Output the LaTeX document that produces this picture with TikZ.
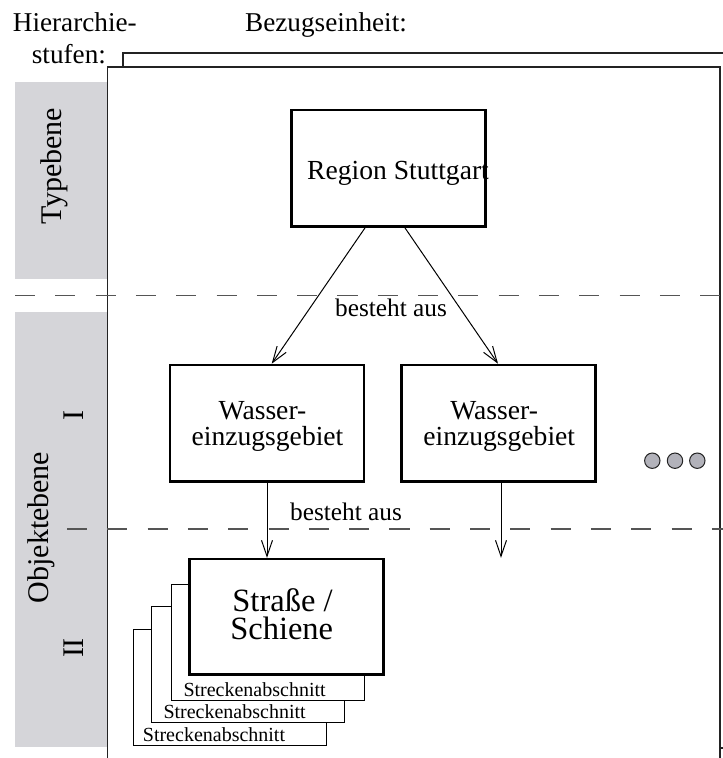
\documentclass[tikz,border=0pt]{standalone}
\usepackage{fontspec}
\setmainfont{Liberation Serif}
\usetikzlibrary{arrows.meta,calc}

\definecolor{panelgray}{RGB}{213,213,217}
\definecolor{dashgray}{RGB}{85,85,85}
\definecolor{dotgray}{RGB}{178,178,186}
\definecolor{framegray}{RGB}{35,35,35}

\begin{document}
\begin{tikzpicture}[x=1pt,y=-1pt,
  panel/.style={fill=panelgray},
  frame/.style={draw=framegray,line width=1.4pt,fill=white},
  unitbox/.style={draw=black,line width=2.5pt,fill=white,inner sep=0pt,
    minimum width=194pt,minimum height=116.7pt},
  segbox/.style={draw=black,line width=1pt,fill=white,inner sep=0pt,
    minimum width=193.3pt,minimum height=116pt},
  bigtxt/.style={inner sep=0pt,anchor=base,font=\fontsize{27.6pt}{27pt}\selectfont},
  huge/.style={inner sep=0pt,anchor=base,font=\fontsize{32.5pt}{32pt}\selectfont},
  small/.style={inner sep=0pt,anchor=base west,font=\fontsize{20pt}{20pt}\selectfont},
  reltxt/.style={inner sep=0pt,anchor=base west,font=\fontsize{25.3pt}{25pt}\selectfont},
  head/.style={inner sep=0pt,anchor=base west,font=\fontsize{27.2pt}{27pt}\selectfont},
  level/.style={inner sep=0pt,anchor=base,rotate=90,font=\fontsize{30pt}{30pt}\selectfont},
  sepline/.style={draw=dashgray,line width=1.5pt,dash pattern=on 20.15pt off 20.15pt},
  arr/.style={draw=black,line width=1pt,-{Straight Barb[length=16pt,width=11pt]}},
  dot/.style={circle,draw=framegray,fill=dotgray,line width=1pt,inner sep=0pt,minimum size=15.4pt}
]
\useasboundingbox (0,0) rectangle (723,758);
\clip (0,0) rectangle (723,758);

% level panels on the left
\fill[panel] (15,82) rectangle (107.7,279);
\fill[panel] (15,311.7) rectangle (107.7,746.7);

% stacked frames of the reference units
\draw[frame] (123,53) rectangle (724,748);
\draw[frame] (107.7,67) rectangle (720,775);

% headings
\node[head] (h1) at (12.7,31.5) {Hierarchie-};
\node[head] (h2) at (31.7,63) {stufen:};
\node[head] (h3) at (245,31.5) {Bezugseinheit:};

% level names
\node[level] (lt) at (61,166) {Typebene};
\node[level] (lo) at (48,527.5) {Objektebene};
\node[level] (l1) at (83,415) {I};
\node[level] (l2) at (83,648) {II};

% level separators
\draw[sepline] (15,295.5) -- (723,295.5);
\draw[sepline] (67,529) -- (723,529);

% type level
\node[unitbox] (rs) at (388.7,168.3) {};
\node[bigtxt] (rst) at (398,179) {Region Stuttgart};

% object level I
\node[unitbox] (w1) at (267,423.3) {};
\node[bigtxt] (w1a) at (262.5,419) {Wasser-};
\node[bigtxt] (w1b) at (267.5,445.7) {einzugsgebiet};
\node[unitbox] (w2) at (498.7,423.3) {};
\node[bigtxt] (w2a) at (494.2,419) {Wasser-};
\node[bigtxt] (w2b) at (499.2,445.7) {einzugsgebiet};

\node[dot] (d1) at (652.3,460.7) {};
\node[dot] (d2) at (675,460.7) {};
\node[dot] (d3) at (697.3,460.7) {};

% object level II: stack of sections behind the main unit
\node[segbox] (s3) at (230,687.5) {};
\node[small] (s3t) at (142.7,741.7) {Streckenabschnitt};
\node[segbox] (s2) at (247.7,664.3) {};
\node[small] (s2t) at (163.3,718.7) {Streckenabschnitt};
\node[segbox] (s1) at (267.7,642) {};
\node[small] (s1t) at (183.3,696) {Streckenabschnitt};

\node[unitbox,minimum height=115.3pt] (ss) at (286.3,616.7) {};
\node[huge] (ssa) at (282.5,611) {Straße /};
\node[huge] (ssb) at (281.7,639.5) {Schiene};

% composition arrows
\draw[arr] ([xshift=-23.7pt]rs.south) -- ([xshift=4.7pt]w1.north);
\draw[arr] ([xshift=16.3pt]rs.south) -- ([xshift=-0.7pt]w2.north);
\node[reltxt] (rel1) at (335,316.7) {besteht aus};

\draw[arr] (w1.south) -- (w1.south |- ss.north);
\coordinate (w2end) at ($(w2.south |- ss.north)+(2.3,0)$);
\draw[arr] ([xshift=2.3pt]w2.south) -- (w2end);
\node[reltxt] (rel2) at (290,520) {besteht aus};
\end{tikzpicture}
\end{document}
